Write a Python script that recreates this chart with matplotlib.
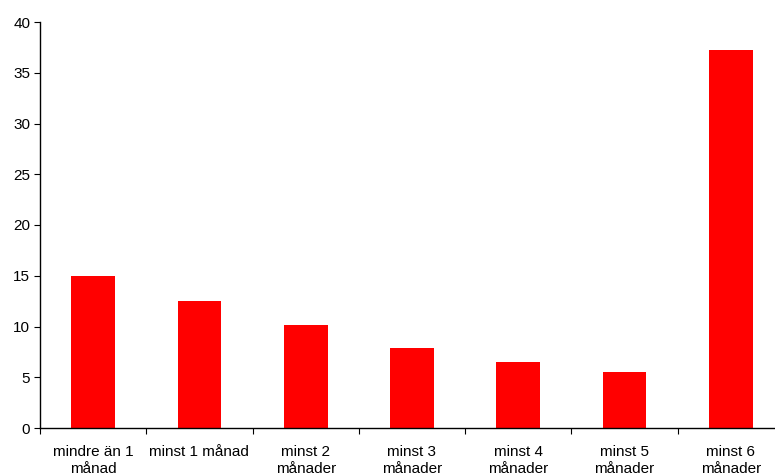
import matplotlib
matplotlib.use("Agg")
import matplotlib.pyplot as plt
import numpy as np

categories = ["mindre än 1\nmånad", "minst 1 månad", "minst 2\nmånader", "minst 3\nmånader",
              "minst 4\nmånader", "minst 5\nmånader", "minst 6\nmånader"]
values = [15.0, 12.5, 10.1, 7.9, 6.5, 5.5, 37.2]
yticks = [0, 5, 10, 15, 20, 25, 30, 35, 40]

plt.rcParams['font.family'] = ['Liberation Sans', 'DejaVu Sans']
fig = plt.figure(figsize=(7.75, 4.76), dpi=100)
ax = fig.add_axes([40/775, 48/476, 744/775, 406/476])

x = np.arange(len(categories))
ax.bar(x, values, width=0.41, color="#ff0000")
ax.set_xlim(-0.5, len(categories) - 0.5)
ax.set_ylim(0, 40)
ax.set_yticks(yticks)
ax.tick_params(axis='y', direction='out', length=4, labelsize=11, pad=3)

ax.set_xticks(np.arange(len(categories) + 1) - 0.5)
ax.set_xticklabels([])
ax.set_xticks(x, minor=True)
ax.set_xticklabels(categories, minor=True, fontsize=11, linespacing=1.3)
ax.tick_params(axis='x', which='major', direction='out', length=4)
ax.tick_params(axis='x', which='minor', length=0, pad=12)

for s in ['top', 'right']:
    ax.spines[s].set_visible(False)
for s in ['left', 'bottom']:
    ax.spines[s].set_linewidth(1.0)

fig.savefig("out.png", dpi=100)
